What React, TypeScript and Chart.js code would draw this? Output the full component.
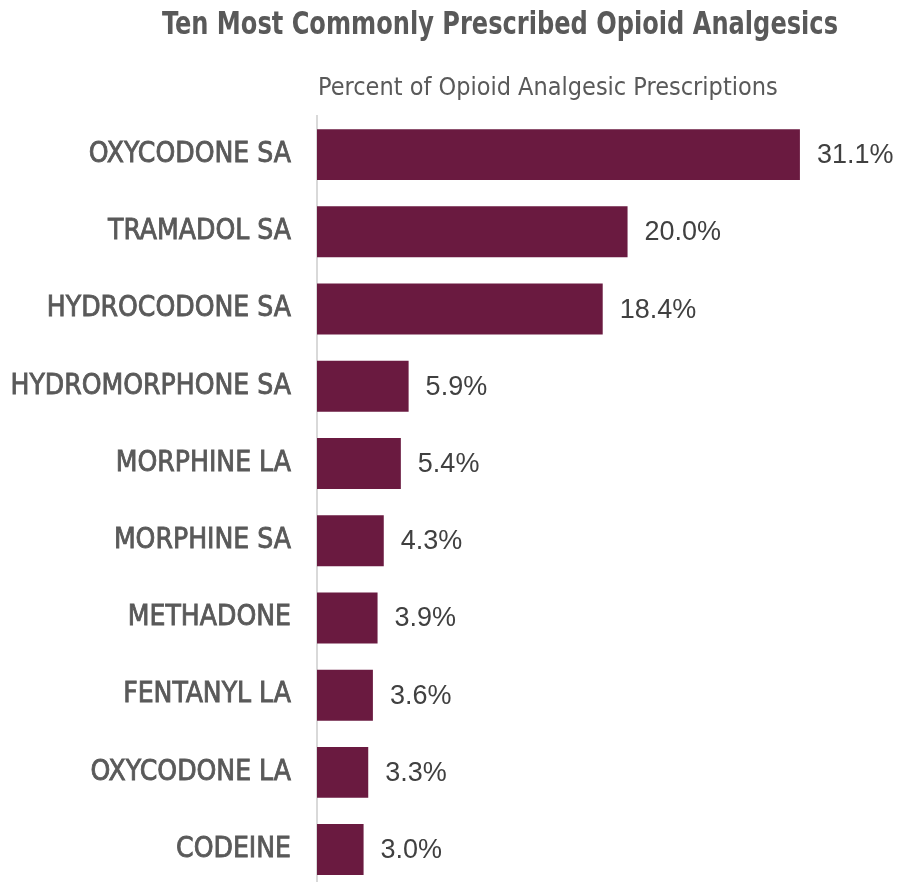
import React, { useEffect, useRef } from "react";
import { Chart, registerables } from "chart.js";

Chart.register(...registerables);

const categories = [
  "OXYCODONE SA",
  "TRAMADOL SA",
  "HYDROCODONE SA",
  "HYDROMORPHONE SA",
  "MORPHINE LA",
  "MORPHINE SA",
  "METHADONE",
  "FENTANYL LA",
  "OXYCODONE LA",
  "CODEINE",
];
const values = [31.1, 20.0, 18.4, 5.9, 5.4, 4.3, 3.9, 3.6, 3.3, 3.0];
const titleText = "Ten Most Commonly Prescribed Opioid Analgesics";
const subtitleText = "Percent of Opioid Analgesic Prescriptions";

const BAR_COLOR = "#6A1A40";
const NARROW = '"DejaVu Sans Condensed", "DejaVu Sans", sans-serif';
const SANS = '"Liberation Sans", Arial, sans-serif';

const textPlugin = {
  id: "texts",
  afterDatasetsDraw(chart: any) {
    const ctx = chart.ctx;
    const area = chart.chartArea;
    ctx.save();
    // title (condensed horizontally)
    ctx.fillStyle = "#595959";
    ctx.font = `bold 32px ${NARROW}`;
    ctx.textAlign = "center";
    ctx.textBaseline = "alphabetic";
    const tw = ctx.measureText(titleText).width;
    const sx = 676 / tw;
    ctx.save();
    ctx.translate(500, 34);
    ctx.scale(sx, 1);
    ctx.fillText(titleText, 0, 0);
    ctx.restore();
    // subtitle
    ctx.font = `25px ${NARROW}`;
    ctx.textAlign = "left";
    ctx.fillText(subtitleText, area.left + 1, 95);
    // value labels
    const meta = chart.getDatasetMeta(0);
    ctx.fillStyle = "#404040";
    ctx.font = `27px ${SANS}`;
    ctx.textBaseline = "middle";
    meta.data.forEach((bar: any, i: number) => {
      ctx.fillText(values[i].toFixed(1) + "%", bar.x + 17, bar.y + 1);
    });
    ctx.restore();
  },
};

export default function App() {
  const ref = useRef<HTMLCanvasElement>(null);
  useEffect(() => {
    document.body.style.margin = "0";
    if (!ref.current) return;
    const chart = new Chart(ref.current, {
      type: "bar",
      data: {
        labels: categories,
        datasets: [
          {
            data: values,
            backgroundColor: BAR_COLOR,
            borderWidth: 0,
            barPercentage: 0.66,
            categoryPercentage: 1,
          },
        ],
      },
      options: {
        indexAxis: "y",
        responsive: false,
        animation: false,
        layout: { padding: { top: 116, right: 27, bottom: 0, left: 0 } },
        plugins: {
          legend: { display: false },
          tooltip: { enabled: false },
          title: { display: false },
        },
        scales: {
          x: {
            display: false,
            min: 0,
            max: 36,
          },
          y: {
            grid: { display: false, drawTicks: false },
            border: { display: true, color: "#D9D9D9", width: 2 },
            ticks: {
              padding: 26,
              color: "#595959",
              textStrokeColor: "#595959",
              textStrokeWidth: 0.8,
              font: { family: NARROW, size: 28 },
            },
            afterFit: (s: any) => {
              s.width = 317;
            },
          },
        },
      },
      plugins: [textPlugin],
    });
    return () => chart.destroy();
  }, []);
  return (
    <div style={{ width: 903, height: 882, overflow: "hidden", background: "#fff" }}>
      <canvas ref={ref} width={903} height={931} style={{ display: "block" }} />
    </div>
  );
}
